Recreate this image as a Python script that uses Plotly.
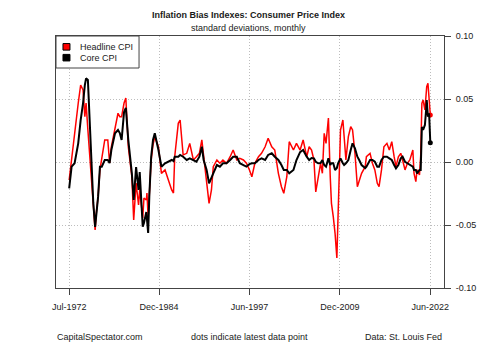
import plotly.graph_objects as go

dates = [
    "1972-07", "1972-11", "1973-04", "1973-10", "1974-02", "1974-06", "1974-09", "1974-11",
    "1975-02", "1975-05", "1975-08", "1975-11", "1976-02", "1976-04", "1976-07", "1976-10",
    "1977-01", "1977-06", "1977-11", "1978-02", "1978-05", "1978-11", "1979-04", "1979-07",
    "1979-10", "1980-02", "1980-05", "1980-09", "1981-03", "1981-06", "1981-10", "1982-02",
    "1982-04", "1982-09", "1982-11", "1983-03", "1983-04", "1983-06", "1983-08", "1983-11",
    "1984-02", "1984-05", "1984-11", "1985-04", "1985-10", "1986-03", "1986-09", "1986-12",
    "1987-02", "1987-08", "1987-11", "1988-04", "1988-10", "1989-03", "1989-09", "1990-02",
    "1990-07", "1990-11", "1991-02", "1991-07", "1991-11", "1992-03", "1992-06", "1992-12",
    "1993-05", "1993-10", "1994-04", "1994-10", "1995-03", "1995-09", "1996-02", "1996-08",
    "1997-01", "1997-06", "1997-10", "1998-03", "1998-09", "1999-02", "1999-08", "2000-01",
    "2000-07", "2000-12", "2001-06", "2001-11", "2002-03", "2002-08", "2002-12", "2003-07",
    "2003-12", "2004-06", "2004-11", "2005-05", "2005-09", "2006-01", "2006-05", "2006-08",
    "2006-12", "2007-04", "2007-07", "2007-10", "2008-01", "2008-05", "2008-08", "2008-10",
    "2009-01", "2009-04", "2009-07", "2009-09", "2009-11", "2010-01", "2010-05", "2010-07",
    "2010-10", "2011-02", "2011-06", "2011-09", "2012-01", "2012-05", "2012-08", "2012-12",
    "2013-06", "2013-08", "2014-02", "2014-06", "2014-10", "2015-02", "2015-05", "2015-09",
    "2016-01", "2016-06", "2016-10", "2017-02", "2017-06", "2017-09", "2018-01", "2018-05",
    "2018-08", "2018-12", "2019-04", "2019-08", "2020-01", "2020-03", "2020-06", "2020-08",
    "2020-12", "2021-02", "2021-04", "2021-06", "2021-09", "2021-11", "2021-12", "2022-02",
    "2022-04", "2022-06",
]

headline_cpi = [
    -0.0143, 0.0029, 0.0201, 0.0466, 0.0611, 0.0571, 0.0360, 0.0468,
    0.0254, 0.0071, -0.0143, -0.0381, -0.0540, -0.0405, -0.0275, -0.0063,
    0.0042, 0.0175, 0.0175, -0.0008, 0.0121, 0.0280, 0.0387, 0.0360,
    0.0360, 0.0468, 0.0508, 0.0121, -0.0117, -0.0460, -0.0167, -0.0341,
    -0.0222, -0.0444, -0.0286, -0.0302, -0.0246, -0.0434, -0.0222, 0.0016,
    0.0135, 0.0201, 0.0121, -0.0090, -0.0063, -0.0143, -0.0222, -0.0246,
    0.0042, 0.0307, 0.0333, 0.0056, 0.0069, 0.0148, 0.0016, 0.0042,
    0.0069, 0.0175, 0.0042, -0.0196, -0.0328, -0.0222, -0.0037, 0.0016,
    -0.0010, 0.0016, -0.0010, 0.0042, 0.0095, 0.0016, 0.0029, 0.0016,
    -0.0010, -0.0063, -0.0117, -0.0010, 0.0042, 0.0069, 0.0121, 0.0188,
    0.0121, 0.0095, -0.0090, -0.0196, -0.0248, -0.0117, 0.0161, 0.0095,
    0.0148, 0.0095, 0.0175, 0.0042, 0.0121, 0.0095, 0.0016, -0.0238,
    -0.0117, -0.0010, -0.0090, 0.0228, 0.0148, 0.0349, -0.0117, -0.0328,
    -0.0434, -0.0566, -0.0762, -0.0381, 0.0016, 0.0254, 0.0333, 0.0201,
    0.0016, 0.0201, 0.0280, 0.0254, 0.0069, -0.0196, -0.0143, -0.0090,
    -0.0037, 0.0042, 0.0069, -0.0010, -0.0063, -0.0169, -0.0196, -0.0063,
    0.0121, 0.0148, 0.0095, 0.0161, 0.0042, -0.0037, 0.0042, 0.0069,
    0.0016, -0.0063, -0.0010, 0.0016, 0.0095, -0.0090, -0.0156, -0.0063,
    -0.0103, 0.0050, 0.0466, 0.0492, 0.0413, 0.0556, 0.0598, 0.0625,
    0.0466, 0.0373,
]

core_cpi = [
    -0.0209, -0.0037, -0.0010, 0.0148, 0.0333, 0.0466, 0.0611, 0.0664,
    0.0651, 0.0333, -0.0063, -0.0325, -0.0516, -0.0434, -0.0275, -0.0037,
    -0.0037, 0.0016, 0.0016, -0.0008, 0.0095, 0.0228, 0.0254, 0.0230,
    0.0175, 0.0397, 0.0429, 0.0175, -0.0090, -0.0302, -0.0040, -0.0222,
    -0.0079, -0.0513, -0.0484, -0.0397, -0.0444, -0.0563, -0.0262, 0.0042,
    0.0175, 0.0228, 0.0095, -0.0037, -0.0010, 0.0002, 0.0016, 0.0008,
    0.0042, 0.0042, 0.0056, 0.0042, 0.0016, 0.0029, 0.0016, 0.0002,
    0.0042, 0.0121, 0.0016, -0.0063, -0.0169, -0.0117, -0.0090, -0.0024,
    -0.0037, -0.0010, -0.0010, 0.0016, 0.0042, 0.0042, -0.0010, -0.0024,
    -0.0037, -0.0016, -0.0010, -0.0010, 0.0016, 0.0029, 0.0016, 0.0056,
    0.0069, 0.0042, 0.0016, -0.0024, -0.0063, -0.0063, -0.0090, -0.0063,
    0.0016, 0.0079, 0.0095, 0.0042, 0.0016, 0.0032, 0.0029, 0.0002,
    -0.0010, -0.0008, 0.0016, -0.0024, -0.0037, 0.0029, -0.0024, -0.0010,
    -0.0010, -0.0063, -0.0048, -0.0010, 0.0016, 0.0029, -0.0010, -0.0024,
    -0.0010, 0.0016, 0.0095, 0.0148, 0.0109, 0.0042, 0.0016, -0.0024,
    -0.0048, -0.0037, 0.0016, 0.0016, 0.0002, -0.0037, -0.0037, 0.0016,
    0.0042, 0.0042, 0.0029, 0.0016, -0.0024, -0.0050, -0.0024, 0.0029,
    0.0042, 0.0002, -0.0010, -0.0024, -0.0037, -0.0063, -0.0063, -0.0090,
    -0.0063, -0.0063, 0.0278, 0.0254, 0.0294, 0.0413, 0.0492, 0.0360,
    0.0387, 0.0153,
]

series_names = ["Headline CPI", "Core CPI"]
series_colors = ["#ff0000", "#000000"]
tick_dates = ["1972-07-01", "1984-12-01", "1997-06-01", "2009-12-01", "2022-06-01"]
tick_labels = ["Jul-1972", "Dec-1984", "Jun-1997", "Dec-2009", "Jun-2022"]
y_ticks = [0.10, 0.05, 0.0, -0.05, -0.10]
y_labels = ["0.10", "0.05", "0.00", "-0.05", "-0.10"]

FONT = "Liberation Sans, Arial, sans-serif"
TXT = "#1a1a1a"
GRID = "#bdbdbd"

fig = go.Figure()
for name, vals, col, w in [(series_names[0], headline_cpi, series_colors[0], 1.5),
                           (series_names[1], core_cpi, series_colors[1], 2.0)]:
    fig.add_trace(go.Scatter(x=dates, y=vals, mode="lines", name=name,
                             line=dict(color=col, width=w), showlegend=False,
                             hoverinfo="skip"))
    fig.add_trace(go.Scatter(x=[dates[-1]], y=[vals[-1]], mode="markers",
                             marker=dict(color=col, size=5), showlegend=False,
                             hoverinfo="skip"))

fig.update_layout(
    width=500, height=346,
    margin=dict(l=56, r=56, t=36, b=58, pad=0),
    paper_bgcolor="white", plot_bgcolor="white",
    font=dict(family=FONT, size=9, color=TXT),
    xaxis=dict(
        type="date", range=["1970-09-05", "2024-04-22"],
        tickvals=tick_dates, ticktext=tick_labels,
        showgrid=True, gridcolor=GRID, griddash="1px,2px", gridwidth=1,
        showline=True, linecolor="#444444", linewidth=1, mirror=True,
        ticks="outside", ticklen=6, tickcolor="#444444", tickwidth=1,
        ticklabelstandoff=4, zeroline=False,
    ),
    yaxis=dict(
        side="right", range=[-0.10, 0.10],
        tickvals=y_ticks, ticktext=y_labels,
        showgrid=True, gridcolor=GRID, griddash="1px,2px", gridwidth=1,
        showline=True, linecolor="#444444", linewidth=1, mirror=True,
        ticks="outside", ticklen=6, tickcolor="#444444", tickwidth=1,
        ticklabelstandoff=3, zeroline=False,
    ),
    shapes=[
        dict(type="rect", xref="paper", yref="paper", x0=0, x1=0.214, y0=0.873, y1=1.0,
             line=dict(color="#444444", width=1), fillcolor="white", layer="above"),
        dict(type="rect", xref="paper", yref="paper", x0=0.018, x1=0.036, y0=0.944, y1=0.970,
             line=dict(color="#000000", width=1), fillcolor=series_colors[0], layer="above"),
        dict(type="rect", xref="paper", yref="paper", x0=0.018, x1=0.036, y0=0.901, y1=0.927,
             line=dict(color="#000000", width=1), fillcolor=series_colors[1], layer="above"),
    ],
    annotations=[
        dict(text=series_names[0], xref="paper", yref="paper", x=0.0567, y=0.956,
             xanchor="left", yanchor="middle", showarrow=False, font=dict(size=9)),
        dict(text=series_names[1], xref="paper", yref="paper", x=0.0567, y=0.913,
             xanchor="left", yanchor="middle", showarrow=False, font=dict(size=9)),
        dict(text="<b>Inflation Bias Indexes: Consumer Price Index</b>", xref="paper", yref="paper",
             x=0.495, y=1.083, xanchor="center", yanchor="middle", showarrow=False,
             font=dict(size=9)),
        dict(text="standard deviations, monthly", xref="paper", yref="paper",
             x=0.497, y=1.032, xanchor="center", yanchor="middle", showarrow=False,
             font=dict(size=9)),
        dict(text="CapitalSpectator.com", xref="paper", yref="paper", x=-0.003, y=-0.194,
             xanchor="left", yanchor="middle", showarrow=False, font=dict(size=9)),
        dict(text="dots indicate latest data point", xref="paper", yref="paper", x=0.4987, y=-0.194,
             xanchor="center", yanchor="middle", showarrow=False, font=dict(size=9)),
        dict(text="Data: St. Louis Fed", xref="paper", yref="paper", x=1.0, y=-0.194,
             xanchor="right", yanchor="middle", showarrow=False, font=dict(size=9)),
    ],
)

fig.write_html("out.html")
